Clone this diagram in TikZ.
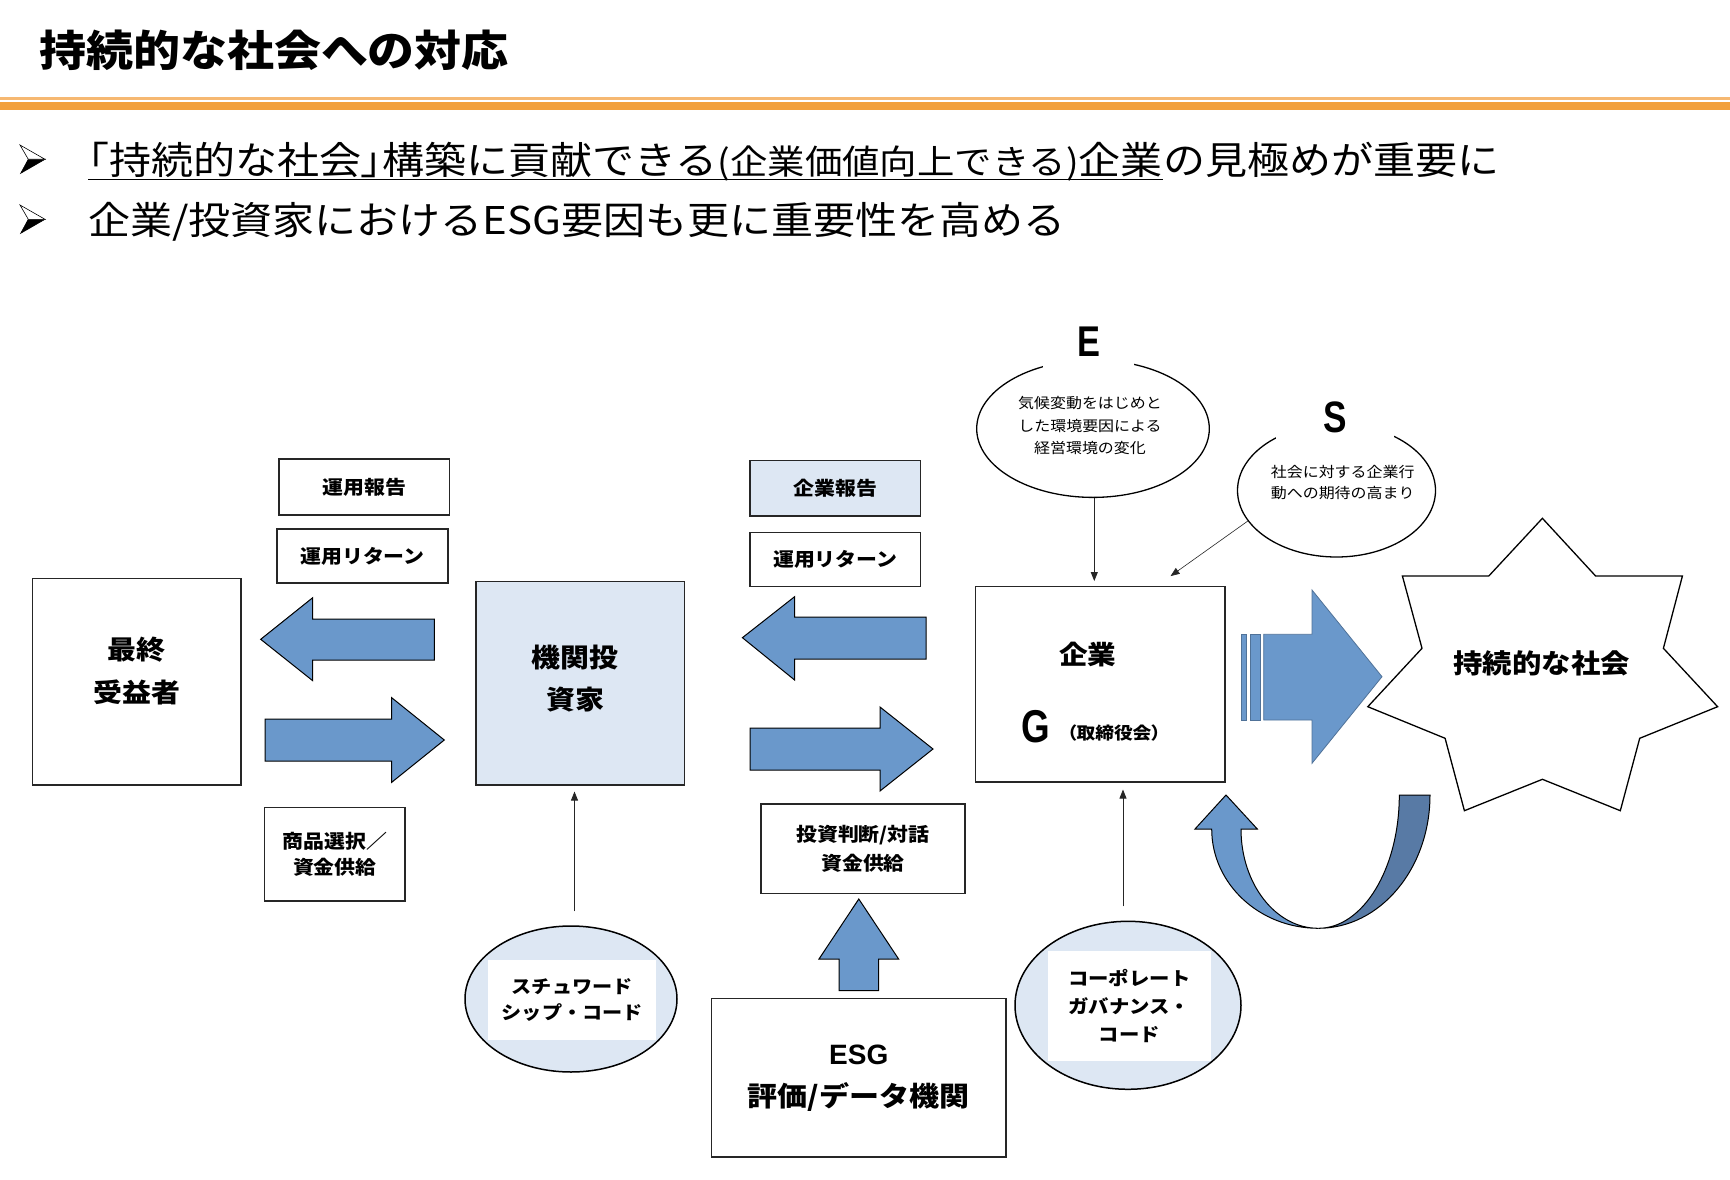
\documentclass[tikz,border=0pt]{standalone}
\usepackage{fontspec}
\usetikzlibrary{arrows.meta,calc,shapes.geometric}
\newfontfamily\jp{Noto Sans CJK JP}[FakeStretch=1.1]
\newfontfamily\jpp{Noto Sans CJK JP}[FakeStretch=1.1,RawFeature=+palt]
\newfontfamily\latn{Liberation Sans}[FakeStretch=0.8]
\newfontfamily\lat{Liberation Sans}
\definecolor{ablue}{HTML}{6A98CB}
\definecolor{dblue}{HTML}{587AA5}
\definecolor{lblue}{HTML}{DDE7F3}
\definecolor{org}{HTML}{F2A03C}
\definecolor{orgl}{HTML}{F6B871}
\newcommand{\fsz}[2]{\fontsize{#1}{#2}\selectfont}
\tikzset{
  box/.style={draw=black!85, line width=1.2pt, inner sep=0pt},
  lblf/.style={font=\jp\bfseries\fsz{19}{26}, align=center},
  bigl/.style={inner sep=0pt, align=center, font=\jp\bfseries\fsz{26.3}{43}},
  barrow/.style={fill=ablue, draw=black, line width=1pt, line join=miter},
  thinarr/.style={draw=black!85, line width=0.8pt, -{Triangle[length=9pt,width=7pt]}},
  ell/.style={ellipse, draw=black, line width=1.5pt, inner sep=0pt},
}
\begin{document}
\begin{tikzpicture}[x=1pt,y=-1pt]
\useasboundingbox (0,0) rectangle (1730,1180);
\fill[white] (0,0) rectangle (1730,1180);

% title and rule
\node[anchor=west, inner sep=0pt, font=\jp\bfseries\fsz{42.7}{50}] (title) at (39,50) {持続的な社会への対応};
\fill[orgl] (0,97.5) rectangle (1730,100);
\fill[org] (0,102) rectangle (1730,110);

% bullets
\foreach \y in {159.3,219.3} {
  \filldraw[fill=black, draw=black, line width=0.6pt, line join=miter] (28.3,\y) -- (45,\y) -- (20.7,\y+14) -- cycle;
  \filldraw[fill=white, draw=black, line width=0.6pt, line join=miter] (20,\y-14.3) -- (45,\y) -- (28.3,\y) -- cycle;
}
\node[anchor=base west, inner sep=0pt, font=\jp\fsz{38.2}{46}] (b1a) at (88,174.5)
  {{\jpp 「}持続的な社会{\jpp 」}構築に貢献できる{\fsz{34}{40}(企業価値向上できる)}企業};
\node[anchor=base west, inner sep=0pt, font=\jp\fsz{38.2}{46}] (b1b) at (b1a.base east) {の見極めが重要に};
\draw[line width=1.5pt] ($(b1a.base west)+(0,5)$) -- ($(b1a.base east)+(0,5)$);
\node[anchor=base west, inner sep=0pt, font=\jp\fsz{38.2}{46}] (b2) at (88,234.5)
  {企業/投資家におけるESG要因も更に重要性を高める};

% left part
\node[box, minimum width=208.7pt, minimum height=206.7pt] (final) at (136.7,681.7) {};
\node[bigl] (finalT) at (136.7,671.5) {最終\\受益者};
\node[box, lblf, minimum width=170.5pt, minimum height=56pt] (urep) at (364.3,487) {運用報告};
\node[box, lblf, minimum width=171pt, minimum height=54pt] (uret1) at (362.5,556) {運用リターン};
\node[box, lblf, minimum width=140.3pt, minimum height=93.3pt] (choice) at (334.8,854.3) {商品選択／\\資金供給};
\filldraw[barrow] (260.7,639.3) -- (312.7,597.7) -- (312.7,619) -- (434.3,619) -- (434.3,660) -- (312.7,660) -- (312.7,680.7) -- cycle;
\filldraw[barrow] (444.3,740) -- (391.7,697.7) -- (391.7,719) -- (265,719) -- (265,761) -- (391.7,761) -- (391.7,782.3) -- cycle;

% investor
\node[box, fill=lblue, minimum width=208.3pt, minimum height=203.3pt] (inv) at (580.2,683.3) {};
\node[bigl, font=\jp\bfseries\fsz{26.3}{42}] (invT) at (575,679) {機関投\\資家};
\node[ell, fill=lblue, minimum width=212pt, minimum height=146pt] (stew) at (571,999) {};
\node[fill=white, inner sep=0pt, minimum width=168.5pt, minimum height=80pt, align=center, font=\jp\bfseries\fsz{18.3}{26}] (stewT) at (572.2,1000) {スチュワード\\シップ・コード};
\draw[thinarr] ($(stew.north)+(3.5,-14)$) -- ($(inv.south)+(-5.7,6)$);

% middle part
\node[box, lblf, fill=lblue, minimum width=170.5pt, minimum height=55.3pt] (crep) at (835.3,488.3) {企業報告};
\node[box, lblf, minimum width=170.5pt, minimum height=54pt] (uret2) at (835.3,559.7) {運用リターン};
\filldraw[barrow] (742.4,637.7) -- (794.6,596.7) -- (794.6,617) -- (926,617) -- (926,659) -- (794.6,659) -- (794.6,680) -- cycle;
\filldraw[barrow] (933,749) -- (880,707) -- (880,728) -- (750,728) -- (750,770) -- (880,770) -- (880,791) -- cycle;
\node[box, lblf, font=\jp\bfseries\fsz{19}{28.3}, minimum width=204pt, minimum height=89.3pt] (judge) at (863,848.7) {投資判断/対話\\資金供給};
\filldraw[barrow] (858.8,899) -- (898.6,959) -- (878.7,959) -- (878.7,990.7) -- (839,990.7) -- (839,959) -- (819,959) -- cycle;
\node[box, align=center, font=\jp\bfseries\fsz{27.3}{42}, minimum width=294.4pt, minimum height=158.5pt] (esg) at (858.8,1077.8) {{\lat\fsz{28}{42}ESG}\\評価/データ機関};

% company
\node[box, minimum width=249.3pt, minimum height=195.3pt] (kigyo) at (1100.3,684.3) {};
\node[bigl, font=\jp\bfseries\fsz{26}{40}] (kigyoT) at (1087.7,655) {企業};
\node[inner sep=0pt, font=\latn\bfseries\fsz{46}{50}] (G) at (1035.8,726.7) {G};
\node[inner sep=0pt, font=\jp\bfseries\fsz{17}{20}] (board) at (1114,733.3) {{\jpp （}取締役会{\jpp ）}};

\node[ell, fill=lblue, minimum width=226pt, minimum height=168pt] (corp) at (1128,1005.3) {};
\node[fill=white, inner sep=0pt, minimum width=162.7pt, minimum height=110pt, align=center, font=\jp\bfseries\fsz{18.5}{28}] (corpT) at (1129.3,1006) {コーポレート\\ガバナンス・\\コード};
\draw[thinarr] ($(corp.north)+(-5,-14.3)$) -- ($(kigyo.south)+(22.7,7)$);

% E
\node[ell, line width=1.3pt, minimum width=232.6pt, minimum height=137.4pt] (Eell) at (1093,428.7) {};
\node[fill=white, inner sep=0pt, minimum width=91pt, minimum height=54pt, font=\latn\bfseries\fsz{43}{50}] (Elab) at (1088.5,342) {E};
\node[inner sep=0pt, align=center, font=\jp\fsz{14.5}{22.5}] (EellT) at (1090,425.5) {気候変動をはじめと\\した環境要因による\\経営環境の変化};
\draw[thinarr, shorten >=5pt] ([xshift=1.3pt]Eell.south) -- ([xshift=1.3pt]Eell.south |- kigyo.north);

% S
\node[ell, line width=1.3pt, minimum width=198pt, minimum height=133pt] (Sell) at (1336.5,490.5) {};
\node[fill=white, inner sep=0pt, minimum width=118pt, minimum height=45pt, font=\latn\bfseries\fsz{44}{50}] (Slab) at (1335,417.5) {S};
\node[inner sep=0pt, align=center, font=\jp\fsz{14.5}{21.5}] (SellT) at (1342.7,482.3) {社会に対する企業行\\動への期待の高まり};
\draw[thinarr, line width=0.6pt] (Sell.199) -- ($(kigyo.north east)+(-55,-10)$);

% big arrow to society
\begin{scope}[fill=ablue, draw=ablue!75!black, line width=0.8pt]
\filldraw (1241.5,634.3) rectangle (1246.8,720);
\filldraw (1250.5,634.3) rectangle (1260,720);
\filldraw (1263.7,634.3) -- (1312,634.3) -- (1312,590) -- (1382,676.7) -- (1312,763.3) -- (1312,720) -- (1263.7,720) -- cycle;
\end{scope}

% star
\filldraw[fill=white, draw=black, line width=1.3pt, line join=miter]
  (1542.4,518.3) -- (1595.6,576) -- (1682.4,576) -- (1663.4,648.3) -- (1717.6,706.7)
  -- (1639.7,738.3) -- (1620.3,810.7) -- (1542.4,779.3) -- (1464.4,810.7) -- (1445.1,738.3)
  -- (1367.8,706.7) -- (1422,648.3) -- (1402.4,576) -- (1488.8,576) -- cycle;
\node[inner sep=0pt, font=\jp\bfseries\fsz{26.7}{32}] (society) at (1541.7,663) {持続的な社会};

% curved U arrow
\filldraw[fill=dblue, draw=black, line width=1pt]
  (1399.3,795) -- (1430,795)
  .. controls (1430,868.6) and (1380,928.3) .. (1318.3,928.3)
  .. controls (1363,928.3) and (1399.3,868.6) .. (1399.3,795) -- cycle;
\filldraw[fill=ablue, draw=black, line width=1pt, line join=miter]
  (1226,795) -- (1257.3,829) -- (1241,829)
  .. controls (1241,883.8) and (1275.6,928.3) .. (1318.3,928.3)
  .. controls (1259.4,928.3) and (1211.7,883.8) .. (1211.7,829)
  -- (1195,829) -- cycle;
\end{tikzpicture}
\end{document}
